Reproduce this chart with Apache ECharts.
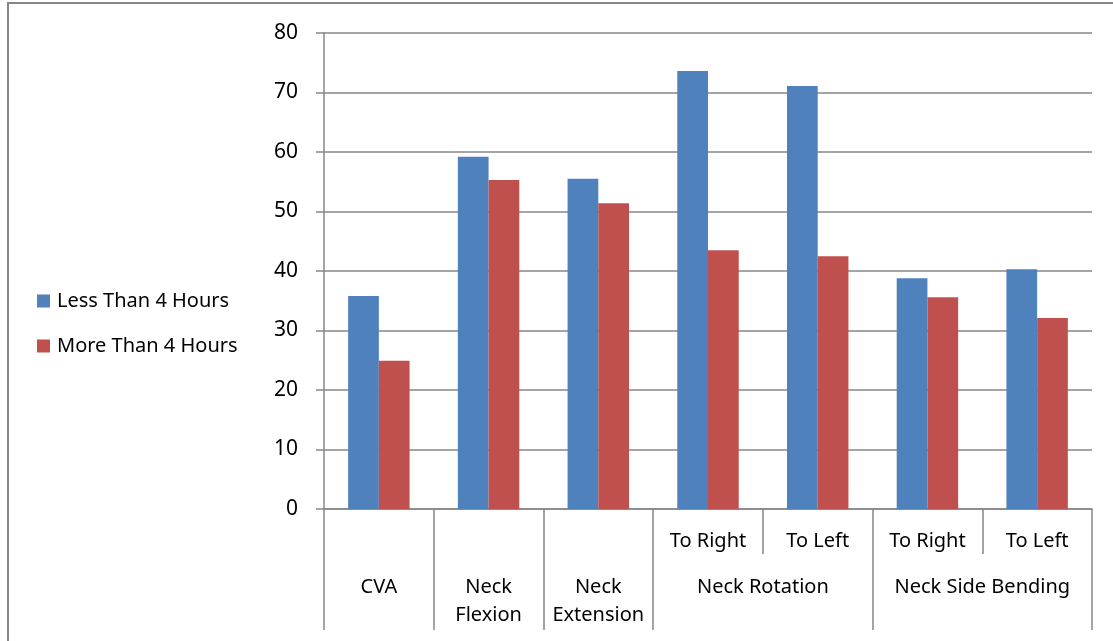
<!DOCTYPE html>
<html>
<head>
<meta charset="utf-8">
<script src="https://cdn.jsdelivr.net/npm/echarts@6/dist/echarts.min.js"></script>
<style>html,body{margin:0;padding:0;background:#fff;}#c{width:1113px;height:641px;}</style>
</head>
<body>
<div id="c"></div>
<script>
const subLabels = ['', '', '', 'To Right', 'To Left', 'To Right', 'To Left'];
const categories = ['CVA', 'Neck Flexion', 'Neck Extension', 'Rotation To Right', 'Rotation To Left', 'Side Bending To Right', 'Side Bending To Left'];
const groupLabels = ['CVA', 'Neck\nFlexion', 'Neck\nExtension', 'Neck Rotation', 'Neck Side Bending'];
const groupCenters = [0.5, 1.5, 2.5, 4, 6];
const groupBounds = [0, 1, 2, 3, 5, 7];
const lessThan4 = [35.8, 59.2, 55.5, 73.6, 71.1, 38.8, 40.3];
const moreThan4 = [24.9, 55.3, 51.4, 43.5, 42.5, 35.6, 32.1];
const yTicks = [0, 10, 20, 30, 40, 50, 60, 70, 80];

const FONT = 'Noto Sans';
const GRAY = '#878787';
const chart = echarts.init(document.getElementById('c'), null, {renderer: 'canvas'});
chart.setOption({
  animation: false,
  backgroundColor: '#fff',
  textStyle: {fontFamily: FONT},
  graphic: [{
    type: 'rect', shape: {x: 8, y: 3, width: 3000, height: 3000},
    style: {fill: 'none', stroke: GRAY, lineWidth: 2}, silent: true, z: -10
  }],
  legend: {
    orient: 'vertical', left: 37, top: 290, padding: 0, itemWidth: 13, itemHeight: 13, itemGap: 23,
    icon: 'rect',
    textStyle: {fontFamily: FONT, fontSize: 20, color: '#000', lineHeight: 22, padding: [0, 0, 0, 2]},
    data: ['Less Than 4 Hours', 'More Than 4 Hours']
  },
  grid: {left: 324, right: 21, top: 33, bottom: 132, containLabel: false},
  xAxis: [{
    type: 'category', data: categories, position: 'bottom',
    axisLine: {show: true, lineStyle: {color: GRAY, width: 1.5}},
    axisTick: {show: true, length: 45, lineStyle: {color: GRAY, width: 1.5}},
    axisLabel: {
      margin: 22, fontSize: 20, color: '#000', fontFamily: FONT, verticalAlign: 'top', interval: 0,
      formatter: (v, i) => subLabels[i]
    },
    splitLine: {show: false}
  }, {
    type: 'value', min: 0, max: 7, position: 'bottom',
    axisLine: {show: false},
    axisTick: {show: true, length: 121, customValues: groupBounds, lineStyle: {color: GRAY, width: 1.5}},
    axisLabel: {
      margin: 64, fontSize: 20, color: '#000', fontFamily: FONT, lineHeight: 28, verticalAlign: 'top',
      customValues: groupCenters,
      formatter: (v) => { const i = groupCenters.indexOf(v); return i >= 0 ? groupLabels[i] : ''; }
    },
    splitLine: {show: false}
  }],
  yAxis: {
    type: 'value', min: 0, max: 80, interval: 10,
    axisLine: {show: true, lineStyle: {color: GRAY, width: 1.5}},
    axisTick: {show: true, length: 8, lineStyle: {color: GRAY, width: 1.5}},
    axisLabel: {margin: 26, fontSize: 21, color: '#000', fontFamily: FONT,
      formatter: (v) => yTicks.includes(v) ? String(v) : ''},
    splitLine: {show: true, lineStyle: {color: GRAY, width: 1.5}}
  },
  series: [{
    name: 'Less Than 4 Hours', type: 'bar', xAxisIndex: 0, data: lessThan4,
    barGap: '0%', barCategoryGap: '44%',
    itemStyle: {color: '#4F81BD'}
  }, {
    name: 'More Than 4 Hours', type: 'bar', xAxisIndex: 0, data: moreThan4,
    barGap: '0%', barCategoryGap: '44%',
    itemStyle: {color: '#C0504D'}
  }]
});
</script>
</body>
</html>
